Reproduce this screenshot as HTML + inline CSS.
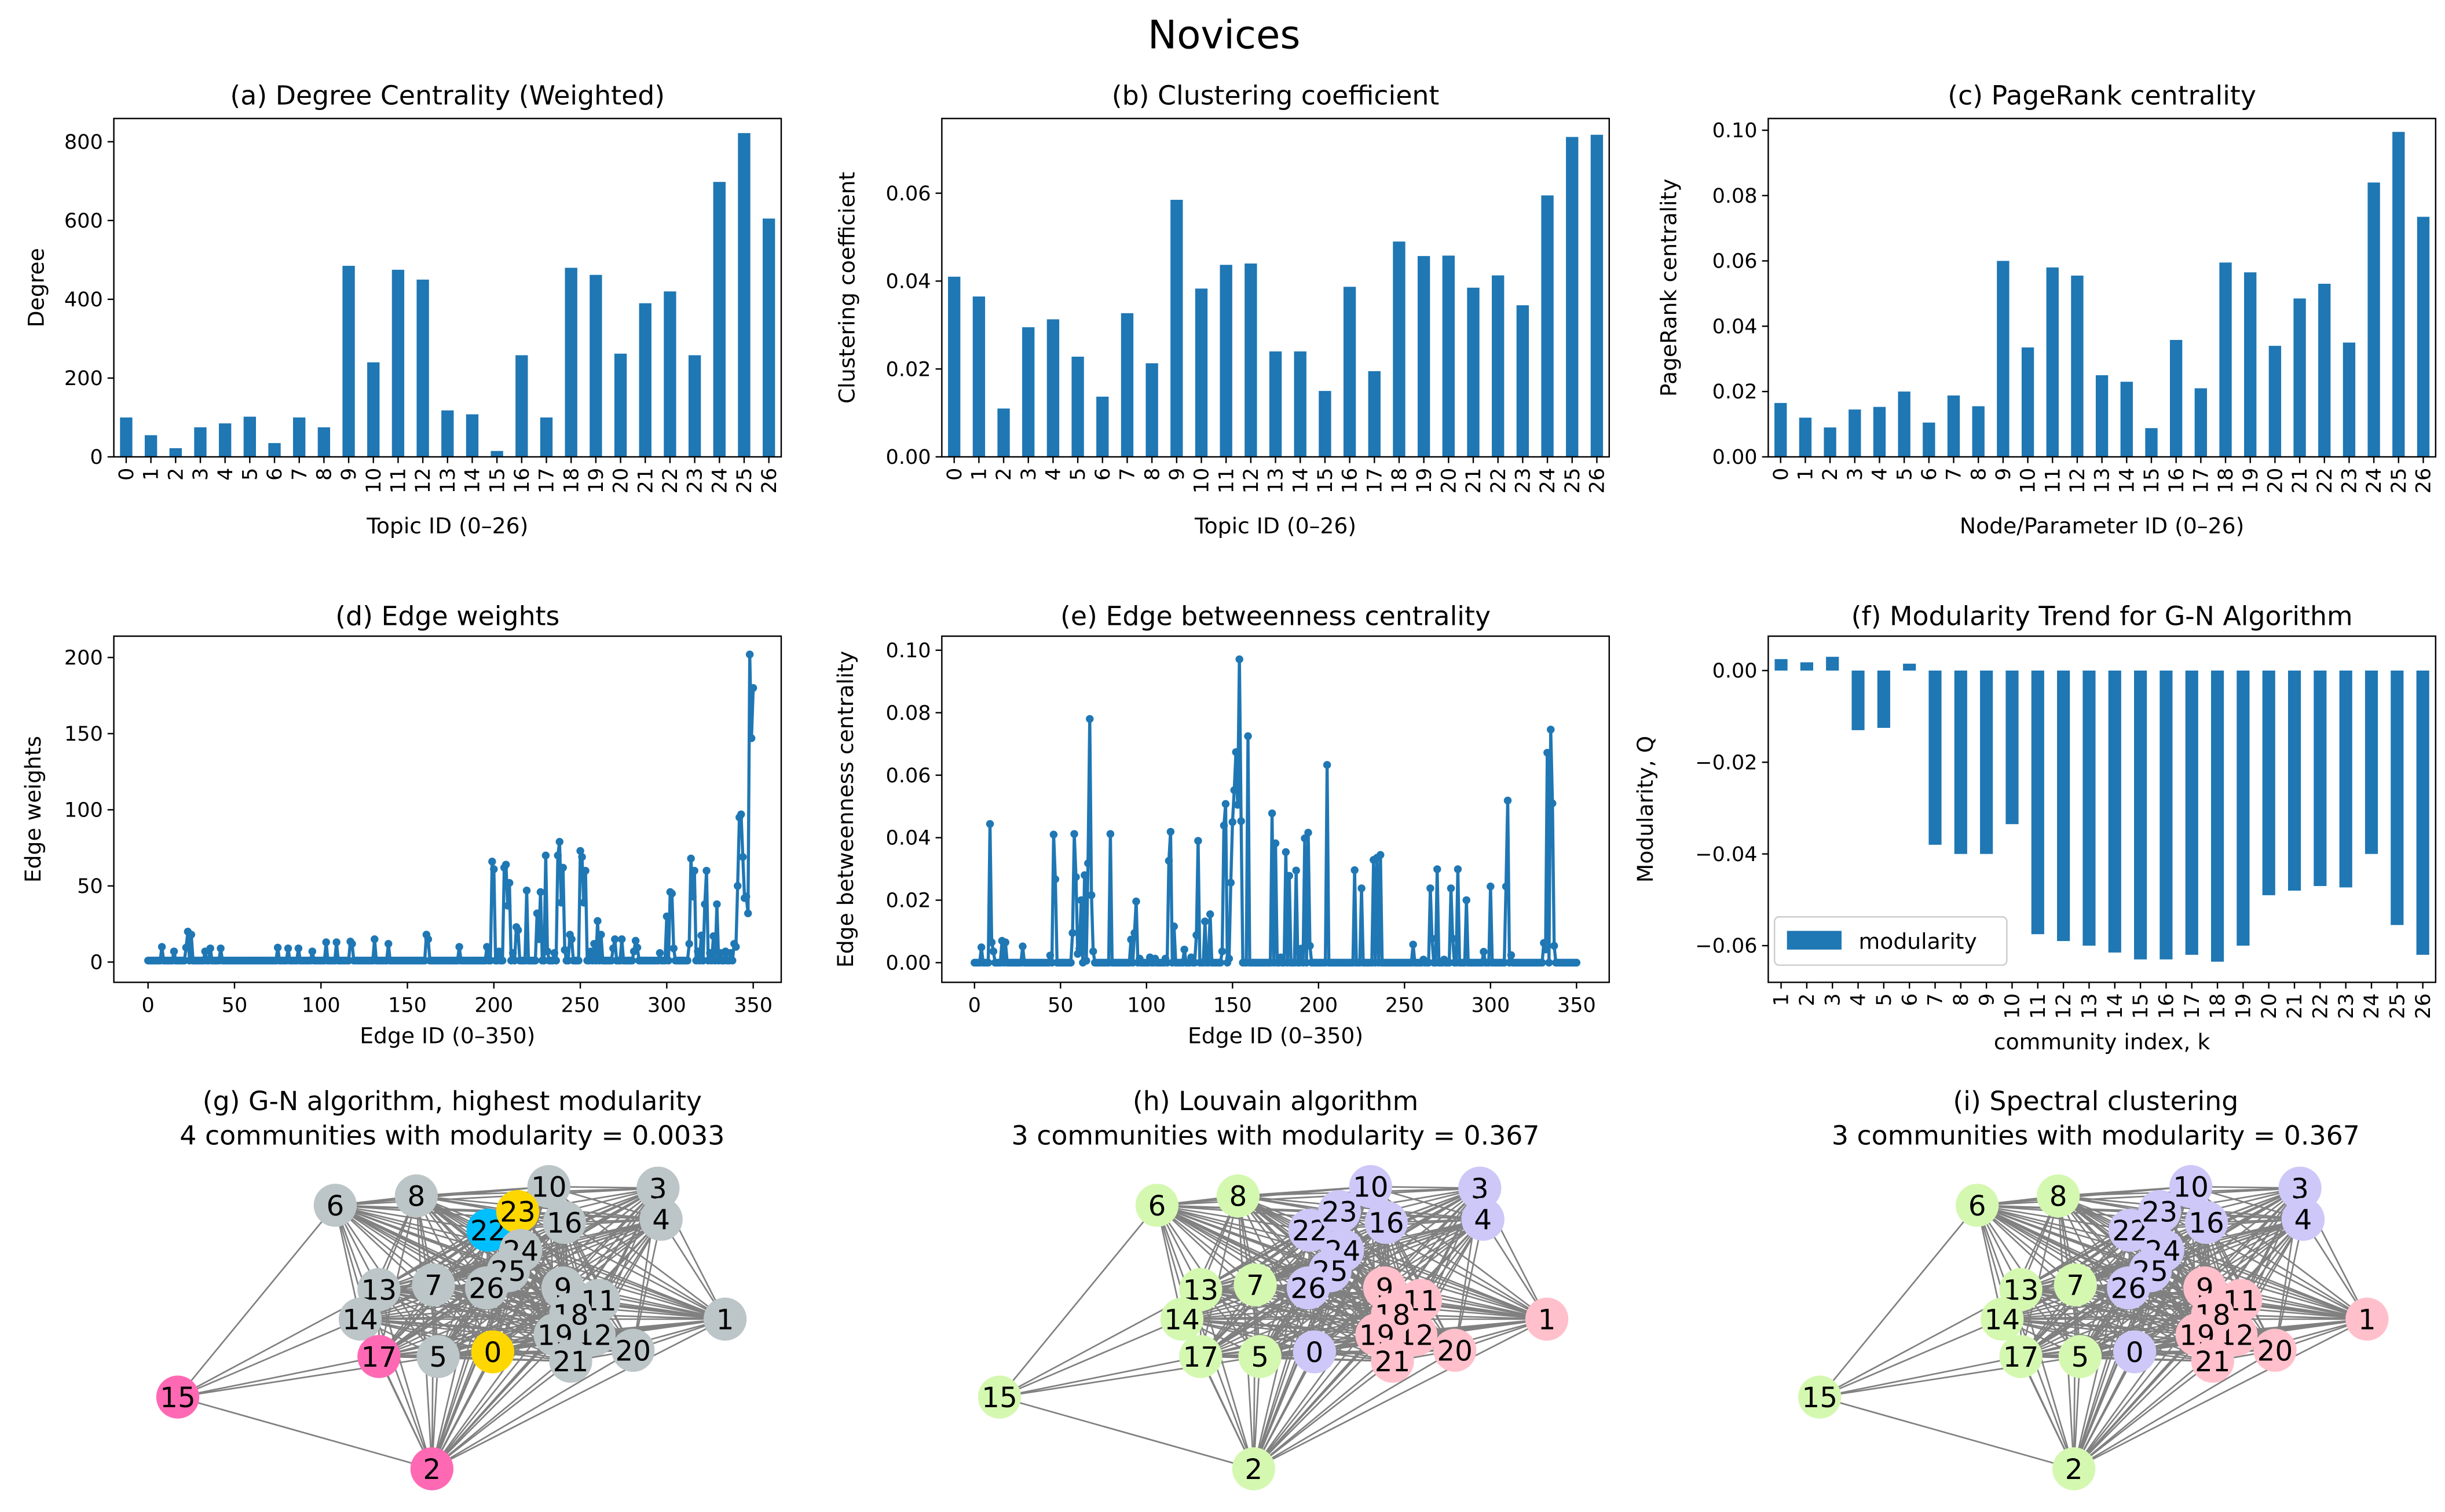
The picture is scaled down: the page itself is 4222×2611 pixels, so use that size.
<!DOCTYPE html>
<html><head><meta charset="utf-8"><title>Novices</title>
<style>html,body{margin:0;padding:0;background:#fff}svg{display:block}text{font-family:"DejaVu Sans","Liberation Sans",sans-serif}</style>
</head><body>
<svg id="fig" xmlns="http://www.w3.org/2000/svg" width="4222" height="2611" viewBox="0 0 1568 969.7">
<rect x="0" y="0" width="1568" height="969.7" fill="#fff"/>
<text x="785" y="31" font-size="25" text-anchor="middle">Novices</text>
</svg>
<script>
// ---- data ----
const topicIds = [0,1,2,3,4,5,6,7,8,9,10,11,12,13,14,15,16,17,18,19,20,21,22,23,24,25,26];
const degreeVals = [100,55,22,75,85,102,35,100,75,485,240,475,450,118,108,15,258,100,480,462,262,390,420,258,698,822,605];
const clusteringVals = [0.041,0.0365,0.011,0.0295,0.0313,0.0228,0.0137,0.0327,0.0213,0.0585,0.0383,0.0437,0.044,0.024,0.024,0.015,0.0387,0.0195,0.049,0.0457,0.0458,0.0385,0.0413,0.0345,0.0595,0.0728,0.0733];
const pagerankVals = [0.0165,0.012,0.009,0.0145,0.0153,0.020,0.0105,0.0188,0.0155,0.060,0.0335,0.058,0.0555,0.025,0.023,0.0088,0.0358,0.021,0.0595,0.0565,0.034,0.0485,0.053,0.035,0.084,0.0995,0.0735];
const communityK = [1,2,3,4,5,6,7,8,9,10,11,12,13,14,15,16,17,18,19,20,21,22,23,24,25,26];
const modularityVals = [0.0025,0.0018,0.003,-0.013,-0.0125,0.0015,-0.038,-0.040,-0.040,-0.0335,-0.0575,-0.059,-0.060,-0.0615,-0.063,-0.063,-0.062,-0.0635,-0.060,-0.049,-0.048,-0.047,-0.0473,-0.040,-0.0555,-0.062];
const degreeTicks = [0,200,400,600,800];
const clusteringTicks = [0,0.02,0.04,0.06];
const pagerankTicks = [0,0.02,0.04,0.06,0.08,0.10];
const modularityTicks = [0,-0.02,-0.04,-0.06];
const edgeTicks = [0,50,100,150,200,250,300,350];
const weightTicks = [0,50,100,150,200];
const betweenTicks = [0,0.02,0.04,0.06,0.08,0.10];
const edgeCount = 351;
const weightBaseline = 1;
const weightIdx = [8,15,22,23,25,33,36,42,75,81,87,95,103,109,117,118,131,139,161,162,180,196,199,200,203,206,207,208,209,211,213,214,219,225,226,227,230,231,235,237,238,239,240,241,244,245,250,251,252,253,256,258,260,262,269,270,274,281,282,283,296,300,302,303,304,313,314,315,316,318,320,322,323,325,327,329,331,334,337,339,340,341,342,343,344,345,346,347,348,349,350];
const weightVals = [10,7,9.5,20,18,7,9,9,9.5,9,9,7,13,13,13.5,12,15,12,18,15,10,10,66,61,7,62,64,37,52,6,23,21,47,32,15,46,70,7,6,70,79,39,62,8,18,15,73,69,39,60,7,12,27,18,9,15,15,7,14,9.5,6,30,46,45,9,12,68,43,60,7,17.5,38,60,6,17,38,6,7,6,12,10,50,95,97,69,42,43,32,202,147,180];
const betweenBaseline = 0;
const betweenIdx = [4,9,10,11,16,18,28,44,46,47,57,58,59,60,61,62,64,65,66,67,68,69,79,91,93,94,96,102,105,111,113,114,116,122,126,129,130,134,137,144,145,146,148,149,150,151,152,153,154,155,159,173,175,178,181,183,187,190,192,194,195,205,221,225,232,234,236,255,261,265,266,269,273,277,278,281,286,296,300,309,310,312,331,332,333,335,336,337];
const betweenVals = [0.0049,0.0444,0.0065,0.0036,0.007,0.0065,0.0052,0.0023,0.041,0.0267,0.0095,0.0412,0.0274,0.0028,0.0045,0.02,0.028,0.0006,0.0318,0.078,0.0216,0.0036,0.0412,0.0074,0.0095,0.0196,0.0013,0.0017,0.0013,0.0013,0.0326,0.0419,0.0116,0.0042,0.0017,0.0088,0.039,0.0132,0.0155,0.0036,0.0439,0.0508,0.0013,0.0256,0.045,0.0552,0.0674,0.0505,0.0971,0.0453,0.0725,0.0478,0.0382,0.0017,0.0354,0.0278,0.0295,0.0045,0.0398,0.0416,0.0054,0.0633,0.0296,0.0238,0.0329,0.0336,0.0345,0.0058,0.001,0.0238,0.0077,0.0299,0.001,0.0238,0.0077,0.0299,0.02,0.0035,0.0244,0.0244,0.0519,0.0024,0.0063,0.0042,0.0672,0.0746,0.051,0.0054];
// network layout (shared by g,h,i)
const nodeLabels = [0,1,2,3,4,5,6,7,8,9,10,11,12,13,14,15,16,17,18,19,20,21,22,23,24,25,26];
const nodeX = [316,465,277,422,424,281,215,278,267,361,352,384,381,243,231,114,362,243,366,356,406,366,313,332,334,326,312];
const nodeY = [867,846,942,762,782,870,773,824,767,826,761,834,856,827,846,896,784,870,843,856,866,873,789,777,802,815,826];
const gnColors = ['#ffd700','#bcc5c7','#ff69b4','#bcc5c7','#bcc5c7','#bcc5c7','#bcc5c7','#bcc5c7','#bcc5c7','#bcc5c7','#bcc5c7','#bcc5c7','#bcc5c7','#bcc5c7','#bcc5c7','#ff69b4','#bcc5c7','#ff69b4','#bcc5c7','#bcc5c7','#bcc5c7','#bcc5c7','#00bfff','#ffd700','#bcc5c7','#bcc5c7','#bcc5c7'];
const commColors = ['#cdc8f8','#ffc0cb','#d4f8b0','#cdc8f8','#cdc8f8','#d4f8b0','#d4f8b0','#d4f8b0','#d4f8b0','#ffc0cb','#cdc8f8','#ffc0cb','#ffc0cb','#d4f8b0','#d4f8b0','#d4f8b0','#cdc8f8','#d4f8b0','#ffc0cb','#ffc0cb','#ffc0cb','#ffc0cb','#cdc8f8','#cdc8f8','#cdc8f8','#cdc8f8','#cdc8f8'];
const node15Links = [6,13,14,17,2,5];

const NS = 'http://www.w3.org/2000/svg';
const fig = document.getElementById('fig');
function mk(tag, attrs, parent, txt) {
  const e = document.createElementNS(NS, tag);
  for (const k in attrs) e.setAttribute(k, attrs[k]);
  if (txt !== undefined) e.textContent = txt;
  (parent || fig).appendChild(e);
  return e;
}
function fmt(v, d) { const s = Math.abs(v).toFixed(d); return (v < 0 ? '\u2212' : '') + s; }

function axesFrame(g, x0, x1, y0, y1) {
  const r = mk('rect', {x:x0, y:y0, width:x1-x0, height:y1-y0, fill:'none', stroke:'#000', 'stroke-width':0.9}, g);
  
  
}
function yAxis(g, x0, sy, ticks, dec) {
  ticks.forEach(t => {
    const y = sy(t);
    const tk = mk('line', {x1:x0-4, x2:x0, y1:y, y2:y, stroke:'#000', 'stroke-width':0.9}, g);
    
    
    const lb = mk('text', {x:x0-7, y:y+4.5, 'font-size':13, 'text-anchor':'end'}, g, fmt(t, dec));
    
    
  });
}
function labels(g, title, tx, ty, ylab, ylx, yly, xlab, xlx, xly) {
  const t = mk('text', {x:tx, y:ty, 'font-size':17, 'text-anchor':'middle'}, g, title);
  
  
  const yl = mk('text', {x:0, y:0, 'font-size':14, 'text-anchor':'middle', transform:'translate('+ylx+','+yly+') rotate(-90)'}, g, ylab);
  
  
  const xl = mk('text', {x:xlx, y:xly, 'font-size':14, 'text-anchor':'middle'}, g, xlab);
  
  
}

function barPanel(name, x0, x1, y0, y1, ymin, ymax, cats, vals, ticks, dec, title, ylab, ylx, xlab, xlabOff) {
  const g = mk('g', {}, fig);
  
  
  const n = cats.length, slot = (x1-x0)/n;
  const sx = i => x0 + (i+0.5)*slot;
  const sy = v => y1 - (v-ymin)/(ymax-ymin)*(y1-y0);
  vals.forEach((v, i) => {
    const top = sy(Math.max(v,0)), bot = sy(Math.min(v,0));
    const b = mk('rect', {x:sx(i)-slot*0.25, y:top, width:slot*0.5, height:Math.max(bot-top,0.1), fill:'#1f77b4'}, g);
    
    
  });
  cats.forEach((c, i) => {
    const tk = mk('line', {x1:sx(i), x2:sx(i), y1:y1, y2:y1+4, stroke:'#000', 'stroke-width':0.9}, g);
    
    
    const lb = mk('text', {x:0, y:0, 'font-size':13, 'text-anchor':'end', transform:'translate('+(sx(i)+4.5)+','+(y1+7)+') rotate(-90)'}, g, String(c));
    
    
  });
  yAxis(g, x0, sy, ticks, dec);
  axesFrame(g, x0, x1, y0, y1);
  labels(g, title, (x0+x1)/2, 67, ylab, ylx, (y0+y1)/2, xlab, (x0+x1)/2, y1+xlabOff);
  return g;
}

barPanel('panel-a-degree', 73, 501, 76, 293, 0, 859, topicIds, degreeVals, degreeTicks, 0, '(a) Degree Centrality (Weighted)', 'Degree', 28, 'Topic ID (0\u201326)', 49);
barPanel('panel-b-clustering', 604, 1032, 76, 293, 0, 0.077, topicIds, clusteringVals, clusteringTicks, 2, '(b) Clustering coefficient', 'Clustering coefficient', 548, 'Topic ID (0\u201326)', 49);
barPanel('panel-c-pagerank', 1134, 1562, 76, 293, 0, 0.1036, topicIds, pagerankVals, pagerankTicks, 2, '(c) PageRank centrality', 'PageRank centrality', 1075, 'Node/Parameter ID (0\u201326)', 49);

// (f) modularity
(function(){
  const g = barPanel('panel-f-modularity', 1134, 1562, 408, 630, -0.068, 0.0075, communityK, modularityVals, modularityTicks, 2, '', 'Modularity, Q', 1060, 'community index, k', 43);
  const t = mk('text', {x:1348, y:401, 'font-size':17, 'text-anchor':'middle'}, g, '(f) Modularity Trend for G-N Algorithm');
  
  
  const lg = mk('g', {}, g);
  
  
  mk('rect', {x:1138, y:588, width:149, height:31, rx:3, fill:'#fff', 'fill-opacity':0.8, stroke:'#ccc', 'stroke-width':0.9}, lg);
  const sw = mk('rect', {x:1146, y:597, width:35, height:12, fill:'#1f77b4'}, lg);
  
  
  const lt = mk('text', {x:1192, y:608.5, 'font-size':14}, lg, 'modularity');
  
  
})();

function linePanel(name, x0, x1, y0, y1, xmin, xmax, ymin, ymax, idx, vals, base, xt, yt, dec, title, ylab, ylx, xlab) {
  const g = mk('g', {}, fig);
  
  
  const series = [];
  for (let i = 0; i < edgeCount; i++) series.push(base);
  idx.forEach((k, j) => { series[k] = vals[j]; });
  const sx = v => x0 + (v-xmin)/(xmax-xmin)*(x1-x0);
  const sy = v => y1 - (v-ymin)/(ymax-ymin)*(y1-y0);
  const pts = series.map((v, i) => sx(i).toFixed(2)+','+sy(v).toFixed(2)).join(' ');
  const pl = mk('polyline', {points:pts, fill:'none', stroke:'#1f77b4', 'stroke-width':2, 'stroke-linejoin':'round'}, g);
  
  
  series.forEach((v, i) => {
    const c = mk('circle', {cx:sx(i), cy:sy(v), r:2.5, fill:'#1f77b4'}, g);
    
    
  });
  xt.forEach(t => {
    const tk = mk('line', {x1:sx(t), x2:sx(t), y1:y1, y2:y1+4, stroke:'#000', 'stroke-width':0.9}, g);
    
    
    const lb = mk('text', {x:sx(t), y:y1+19, 'font-size':13, 'text-anchor':'middle'}, g, String(t));
    
    
  });
  yAxis(g, x0, sy, yt, dec);
  axesFrame(g, x0, x1, y0, y1);
  labels(g, title, (x0+x1)/2, 401, ylab, ylx, (y0+y1)/2, xlab, (x0+x1)/2, y1+39);
}
linePanel('panel-d-edge-weights', 73, 501, 408, 630, -19.8, 366.2, -13.3, 214, weightIdx, weightVals, weightBaseline, edgeTicks, weightTicks, 0, '(d) Edge weights', 'Edge weights', 26, 'Edge ID (0\u2013350)');
linePanel('panel-e-edge-betweenness', 604, 1032, 408, 630, -19, 369, -0.0063, 0.1045, betweenIdx, betweenVals, betweenBaseline, edgeTicks, betweenTicks, 2, '(e) Edge betweenness centrality', 'Edge betweenness centrality', 547, 'Edge ID (0\u2013350)');

function network(name, dx, colors, t1, t2, cx) {
  const g = mk('g', {}, fig);
  
  
  const a = mk('text', {x:cx, y:712, 'font-size':17, 'text-anchor':'middle'}, g, t1);
  
  
  const b = mk('text', {x:cx, y:734, 'font-size':17, 'text-anchor':'middle'}, g, t2);
  
  
  const eg = mk('g', {stroke:'#808080', 'stroke-width':1.0}, g);
  
  
  for (let i = 0; i < nodeLabels.length; i++) for (let j = i+1; j < nodeLabels.length; j++) {
    if ((i === 15 && node15Links.indexOf(j) < 0) || (j === 15 && node15Links.indexOf(i) < 0)) continue;
    const e = mk('line', {x1:nodeX[i]+dx, y1:nodeY[i], x2:nodeX[j]+dx, y2:nodeY[j]}, eg);
    
    
  }
  nodeLabels.forEach((l, i) => {
    const c = mk('circle', {cx:nodeX[i]+dx, cy:nodeY[i], r:13.8, fill:colors[i]}, g);
    
    
    const t = mk('text', {x:nodeX[i]+dx, y:nodeY[i]+6.5, 'font-size':18, 'text-anchor':'middle'}, g, String(l));
    
    
  });
}
network('panel-g-gn-network', 0, gnColors, '(g) G-N algorithm, highest modularity', '4 communities with modularity = 0.0033', 290);
network('panel-h-louvain-network', 527, commColors, '(h) Louvain algorithm', '3 communities with modularity = 0.367', 818);
network('panel-i-spectral-network', 1053, commColors, '(i) Spectral clustering', '3 communities with modularity = 0.367', 1344);
</script>
</body></html>
